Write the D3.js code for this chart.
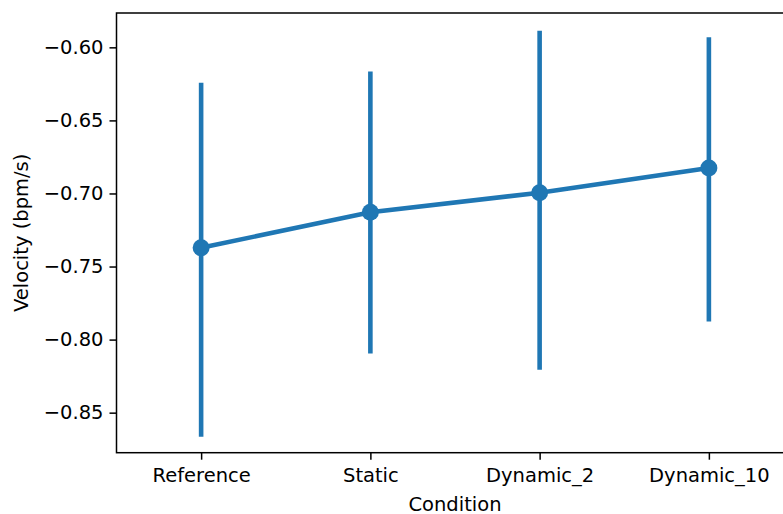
<!DOCTYPE html>
<html>
<head>
<meta charset="utf-8">
<script src="https://cdn.jsdelivr.net/npm/d3@7"></script>
<style>
  html, body { margin: 0; padding: 0; background: #fff; }
  svg { display: block; }
</style>
</head>
<body>
<div id="chart"></div>
<script>
// data
const conditions = ["Reference", "Static", "Dynamic_2", "Dynamic_10"];
const means = [-0.7372, -0.7128, -0.6995, -0.6826];
const ciLow = [-0.8665, -0.8095, -0.8206, -0.7877];
const ciHigh = [-0.6243, -0.6165, -0.5886, -0.5931];
const yTicks = [-0.60, -0.65, -0.70, -0.75, -0.80, -0.85];

const width = 783, height = 514;
const mLeft = 116.5, mRight = 793.5, mTop = 13, mBottom = 452.7;
const blue = "#1f77b4";
const font = "DejaVu Sans, sans-serif";
const fontSize = 19.5;

const rows = conditions.map((c, i) => ({ c, m: means[i], lo: ciLow[i], hi: ciHigh[i] }));

const x = d3.scalePoint().domain(conditions).range([mLeft, mRight]).padding(0.5);
const y = d3.scaleLinear().domain([-0.8774, -0.5765]).range([mBottom, mTop]);

const svg = d3.select("#chart").append("svg")
  .attr("width", width)
  .attr("height", height)
  .attr("font-family", font)
  .attr("font-size", fontSize);

// error bars
svg.append("g").selectAll("line")
  .data(rows)
  .join("line")
  .attr("x1", d => x(d.c)).attr("x2", d => x(d.c))
  .attr("y1", d => y(d.lo)).attr("y2", d => y(d.hi))
  .attr("stroke", blue)
  .attr("stroke-width", 4.6);

// connecting line
svg.append("path")
  .datum(rows)
  .attr("fill", "none")
  .attr("stroke", blue)
  .attr("stroke-width", 4.6)
  .attr("d", d3.line().x(d => x(d.c)).y(d => y(d.m)));

svg.append("g").selectAll("circle")
  .data(rows)
  .join("circle")
  .attr("cx", d => x(d.c))
  .attr("cy", d => y(d.m))
  .attr("r", 8.5)
  .attr("fill", blue);

// axes
const yAxis = svg.append("g")
  .attr("transform", `translate(${mLeft},0)`)
  .call(d3.axisLeft(y).tickValues(yTicks).tickSize(7).tickPadding(6)
    .tickFormat(d => d3.format(".2f")(d).replace("-", "\u2212")));

const xAxis = svg.append("g")
  .attr("transform", `translate(0,${mBottom})`)
  .call(d3.axisBottom(x).tickSize(7).tickPadding(8));

[yAxis, xAxis].forEach(g => {
  g.attr("font-family", font).attr("font-size", fontSize);
  g.selectAll("line").attr("stroke", "#000").attr("stroke-width", 1.5);
  g.selectAll("text").attr("fill", "#000");
  g.select(".domain").remove();
});

// spines
svg.append("rect")
  .attr("x", mLeft).attr("y", mTop)
  .attr("width", mRight - mLeft).attr("height", mBottom - mTop)
  .attr("fill", "none")
  .attr("stroke", "#000")
  .attr("stroke-width", 1.5);

// labels
svg.append("text")
  .attr("x", (mLeft + mRight) / 2)
  .attr("y", 510.5)
  .attr("text-anchor", "middle")
  .text("Condition");

svg.append("text")
  .attr("transform", `translate(28,${(mTop + mBottom) / 2}) rotate(-90)`)
  .attr("text-anchor", "middle")
  .text("Velocity (bpm/s)");
</script>
</body>
</html>
